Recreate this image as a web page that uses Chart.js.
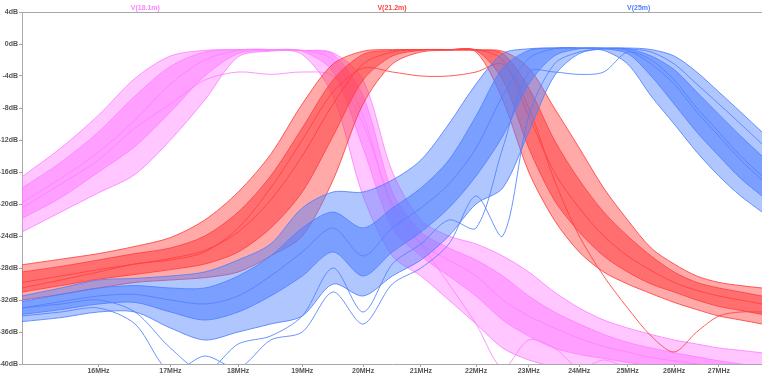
<!DOCTYPE html>
<html>
<head>
<meta charset="utf-8">
<script src="https://cdn.jsdelivr.net/npm/chart.js@4/dist/chart.umd.min.js"></script>
<style>
  html, body { margin: 0; padding: 0; background: #fff; }
  #wrap { width: 762px; height: 375px; }
</style>
</head>
<body>
<div id="wrap"><canvas id="acChart"></canvas></div>
<script>
// frequency grid (MHz) shared by all traces
const freqMHz = [15, 15.5, 16, 16.5, 17, 17.5, 18, 18.5, 19, 19.5, 20, 20.5, 21, 21.5, 22, 22.5, 23, 23.5, 24, 24.5, 25, 25.5, 26, 26.5, 27, 27.5, 28];

// tick labels
const xTicksMHz = [16, 17, 18, 19, 20, 21, 22, 23, 24, 25, 26, 27];
const traceNames = ['V(18.1m)', 'V(21.2m)', 'V(25m)'];

// V(18.1m) monte carlo runs (dB)
const pinkEarly = [-16.6, -13.0, -8.9, -4.3, -1.5, -0.8, -0.7, -0.7, -1.3, -6.5, -19.0, -26.5, -29.0, -32.0, -35.0, -38.0, -39.5, -40.3, -40.6, -40.8, -41, -41, -41, -41, -41, -41, -41];
const pinkLate = [-23.5, -21.0, -18.6, -16.3, -12.0, -7.0, -1.6, -0.9, -0.8, -1.1, -4.5, -16.0, -22.0, -24.0, -25.0, -26.5, -28.5, -31.0, -33.0, -34.5, -35.5, -36.3, -37.0, -37.5, -38.0, -38.3, -38.6];
const pinkMid1 = [-18.0, -14.8, -11.0, -6.5, -2.8, -1.0, -0.7, -0.7, -0.9, -3.5, -13.0, -23.0, -26.5, -29.0, -31.5, -34.5, -36.5, -38.0, -38.8, -39.3, -39.8, -40.2, -40.5, -40.8, -41, -41, -41];
const pinkMid2 = [-19.8, -16.8, -13.5, -9.5, -5.0, -2.0, -0.8, -0.7, -0.8, -2.0, -9.0, -20.5, -25.0, -27.0, -29.0, -32.0, -34.0, -35.5, -36.8, -37.8, -38.5, -39.2, -39.6, -40.0, -40.3, -40.6, -41];
const pinkMid3 = [-21.8, -19.2, -16.0, -12.8, -8.5, -4.0, -1.2, -0.8, -0.8, -1.3, -6.5, -18.5, -23.5, -25.5, -27.0, -29.0, -31.5, -33.5, -35.0, -36.3, -37.3, -38.0, -38.6, -39.1, -39.6, -40.0, -40.3];
const pinkOdd = [-20.5, -17.5, -14.5, -10.5, -7.5, -4.5, -3.5, -3.8, -3.5, -4.0, -10.0, -20.0, -25.0, -30.0, -35.0, -40.5, -37.0, -38.0, -40.5, -39.5, -40.5, -41, -41, -41, -41, -41, -41];

// V(21.2m)
const redEarly = [-27.6, -26.9, -26.2, -25.3, -24.2, -22.0, -18.5, -13.8, -7.5, -2.5, -0.9, -0.7, -0.7, -0.7, -1.0, -7.0, -16.0, -22.0, -26.0, -28.5, -30.0, -31.2, -32.3, -33.2, -34.0, -34.5, -35.0];
const redLate = [-32.0, -31.3, -30.5, -29.8, -29.5, -29.2, -28.5, -26.5, -24.0, -17.0, -7.5, -2.5, -1.0, -0.8, -0.8, -0.9, -3.0, -8.0, -13.0, -18.0, -22.0, -25.5, -27.5, -29.0, -29.8, -30.2, -30.5];
const redMid1 = [-28.5, -27.8, -27.0, -26.2, -25.5, -24.0, -21.0, -16.5, -10.5, -4.5, -1.3, -0.8, -0.7, -0.7, -0.8, -4.5, -13.0, -19.5, -23.5, -26.5, -28.5, -30.0, -31.0, -32.0, -32.8, -33.3, -33.8];
const redMid2 = [-29.8, -29.0, -28.2, -27.5, -26.8, -25.8, -23.5, -19.5, -14.0, -7.5, -2.5, -1.0, -0.7, -0.7, -0.7, -2.0, -9.0, -16.0, -20.5, -24.0, -26.5, -28.3, -29.8, -30.8, -31.5, -32.0, -32.5];
const redMid3 = [-31.0, -30.2, -29.4, -28.8, -28.2, -27.5, -26.0, -23.0, -18.5, -11.5, -4.5, -1.5, -0.8, -0.7, -0.7, -1.2, -5.5, -12.0, -17.0, -21.0, -24.0, -26.5, -28.5, -29.8, -30.5, -31.0, -31.5];
const redOdd = [-30.5, -29.5, -28.5, -27.5, -27.0, -26.0, -23.0, -18.0, -12.0, -6.0, -3.0, -3.5, -4.0, -4.0, -3.5, -2.5, -8.0, -17.0, -24.0, -29.0, -33.0, -36.5, -38.5, -36.0, -34.0, -33.5, -33.5];

// V(25m)
const blueEarly = [-31.5, -30.5, -29.5, -29.3, -29.0, -28.5, -27.0, -25.0, -20.5, -18.5, -18.5, -17.0, -14.5, -10.0, -5.0, -1.2, -0.6, -0.5, -0.5, -0.8, -2.5, -6.5, -10.0, -13.5, -16.5, -19.0, -21.0];
const blueLate = [-34.7, -34.2, -33.5, -33.5, -35.5, -37.0, -36.0, -35.0, -34.0, -30.0, -31.5, -29.0, -27.0, -24.0, -20.0, -18.0, -11.0, -4.0, -1.2, -0.6, -0.5, -0.7, -1.5, -3.5, -6.0, -8.5, -11.0];
const blueMid1 = [-32.2, -31.3, -30.5, -30.2, -30.5, -30.5, -29.0, -26.5, -23.0, -21.0, -23.0, -20.5, -18.0, -14.5, -9.0, -3.0, -0.8, -0.5, -0.5, -0.6, -1.2, -4.0, -7.5, -11.0, -14.0, -16.8, -19.0];
const blueMid2 = [-33.0, -32.2, -31.5, -31.3, -32.0, -32.5, -31.5, -29.0, -26.0, -23.0, -26.5, -23.0, -20.5, -17.5, -13.0, -6.5, -1.8, -0.6, -0.5, -0.5, -0.8, -2.5, -5.0, -8.5, -11.5, -14.5, -17.0];
const blueMid3 = [-33.8, -33.2, -32.5, -32.3, -33.5, -34.5, -33.5, -31.5, -29.0, -26.0, -29.0, -26.0, -23.5, -20.5, -16.5, -11.5, -5.0, -1.5, -0.6, -0.5, -0.6, -1.5, -3.2, -6.0, -8.8, -11.5, -14.0];
const blueOdd1 = [-33.0, -32.5, -32.0, -33.5, -38.0, -41.0, -37.5, -36.5, -34.0, -28.0, -33.5, -27.5, -25.0, -22.0, -23.0, -13.0, -3.5, -3.5, -3.8, -3.5, -1.0, -2.0, -4.5, -8.0, -11.0, -14.0, -16.5];
const blueOdd2 = [-34.0, -33.5, -33.0, -35.0, -41.0, -39.0, -40.5, -37.0, -36.0, -31.0, -35.0, -30.0, -28.0, -25.0, -19.0, -24.0, -9.0, -2.5, -1.0, -0.6, -0.6, -1.0, -2.5, -5.0, -7.5, -10.0, -12.5];

const groups = [
    { rgb: '255, 128, 255', outer: [pinkEarly, pinkLate], inner: [pinkMid1, pinkMid3], runs: [pinkMid2, pinkOdd], order: 2 },
    { rgb: '255, 64, 64', outer: [redEarly, redLate], inner: [redMid1, redMid3], runs: [redMid2, redOdd], order: 1 },
    { rgb: '80, 128, 255', outer: [blueEarly, blueLate], inner: [blueMid1, blueMid3], runs: [blueMid2, blueOdd1, blueOdd2], order: 0 }
];

function toPoints(vals) {
    return vals.map((v, i) => ({ x: freqMHz[i] * 1e6, y: v }));
}

function traceSet(vals, rgb, order) {
    return {
        data: toPoints(vals),
        borderColor: 'rgba(' + rgb + ', 0.85)',
        borderWidth: 1,
        pointRadius: 0,
        tension: 0.3,
        fill: false,
        order: order
    };
}

// each pair of runs is drawn with the area between them shaded, so the
// bundle of monte carlo curves reads as a dense band
function bandPair(pair, rgb, order, alpha) {
    datasets.push(traceSet(pair[0], rgb, order));
    const second = traceSet(pair[1], rgb, order);
    second.fill = '-1';
    second.backgroundColor = 'rgba(' + rgb + ', ' + alpha + ')';
    datasets.push(second);
}

const datasets = [];
groups.forEach(g => {
    bandPair(g.outer, g.rgb, g.order, 0.45);
    bandPair(g.inner, g.rgb, g.order, 0.55);
    g.runs.forEach(r => datasets.push(traceSet(r, g.rgb, g.order)));
});

// trace names across the top, like the waveform viewer header
const headerPlugin = {
    id: 'header',
    afterDraw(chart) {
        const { ctx, chartArea } = chart;
        const w = chartArea.right - chartArea.left;
        ctx.save();
        ctx.font = 'bold 7px "Liberation Sans", Arial, sans-serif';
        ctx.textAlign = 'center';
        ctx.textBaseline = 'middle';
        traceNames.forEach((name, i) => {
            ctx.fillStyle = 'rgb(' + groups[i].rgb + ')';
            ctx.fillText(name, chartArea.left + w * (2 * i + 1) / (2 * traceNames.length), chartArea.top - 4);
        });
        // top frame line
        ctx.strokeStyle = '#a8a8a8';
        ctx.lineWidth = 1;
        ctx.beginPath();
        ctx.moveTo(chartArea.left, chartArea.top + 0.5);
        ctx.lineTo(chartArea.right, chartArea.top + 0.5);
        ctx.stroke();
        ctx.restore();
    }
};

const tickFont = { family: '"Liberation Sans", Arial, sans-serif', size: 7, weight: 'bold' };

new Chart(document.getElementById('acChart'), {
    type: 'line',
    data: { datasets: datasets },
    plugins: [headerPlugin],
    options: {
        responsive: true,
        maintainAspectRatio: false,
        animation: false,
        layout: { padding: { top: 12, right: 0, left: 0, bottom: 0 } },
        plugins: {
            legend: { display: false },
            tooltip: { enabled: false }
        },
        scales: {
            x: {
                type: 'logarithmic',
                min: 15e6,
                max: 28e6,
                afterBuildTicks: scale => {
                    scale.ticks = xTicksMHz.map(v => ({ value: v * 1e6 }));
                },
                afterFit: scale => { scale.height = 11; },
                ticks: {
                    autoSkip: false,
                    maxRotation: 0,
                    padding: 0,
                    color: '#555',
                    font: tickFont,
                    callback: v => (v / 1e6) + 'MHz'
                },
                grid: { drawOnChartArea: false, drawTicks: true, tickLength: 3, color: '#a8a8a8' },
                border: { display: true, color: '#a8a8a8' }
            },
            y: {
                min: -40,
                max: 4,
                afterFit: scale => { scale.width = 22; },
                ticks: {
                    stepSize: 4,
                    padding: 1,
                    color: '#555',
                    font: tickFont,
                    callback: v => v + 'dB'
                },
                grid: { drawOnChartArea: false, drawTicks: true, tickLength: 3, color: '#a8a8a8' },
                border: { display: true, color: '#a8a8a8' }
            }
        }
    }
});
</script>
</body>
</html>
